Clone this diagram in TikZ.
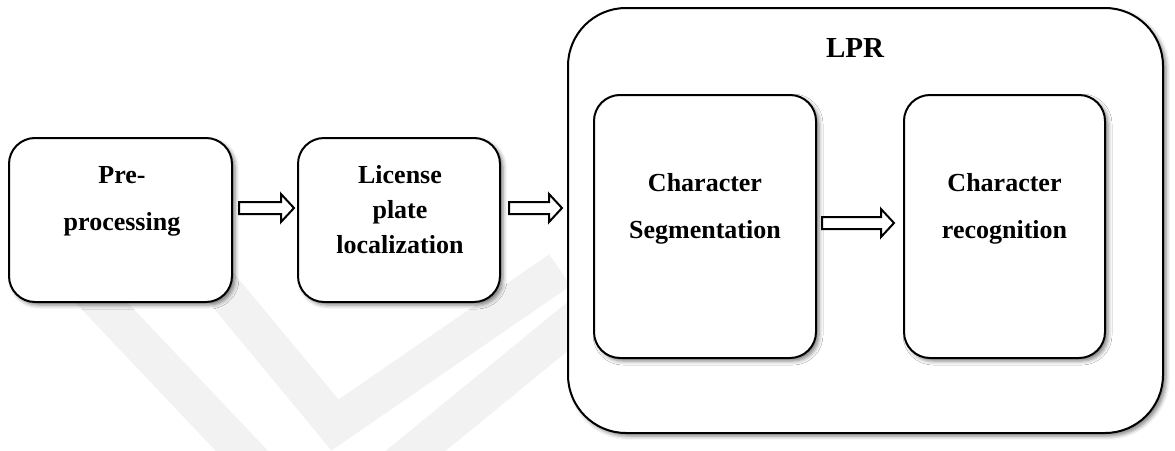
\documentclass[tikz,border=0pt]{standalone}
\usepackage{fontspec}
\setmainfont{Liberation Serif}
\usetikzlibrary{calc,shadows.blur}

\tikzset{
  stage/.style={draw, line width=2pt, fill=white, rounded corners=26pt,
    blur shadow={shadow xshift=3pt, shadow yshift=-3pt,
                 shadow blur radius=4pt, shadow opacity=50}},
  group/.style={stage, rounded corners=58pt},
  caption/.style={font=\fontsize{26}{47}\selectfont\bfseries, align=center},
  tightcaption/.style={font=\fontsize{26}{35}\selectfont\bfseries, align=center},
  hollow/.style={draw, line width=2pt, fill=white, line join=miter},
  backband/.style={draw=black!5, line width=38pt, line join=miter}
}

% hollow block arrow between two nodes: #1 source, #2 target, #3 height (px), #4/#5 gaps
\newcommand\hollowarrow[5]{%
  \draw[hollow] let \p1=(#1.east), \p2=(#2.west), \p3=(0,#3) in
    (\x1+#4pt, \y3+6pt) -- (\x2-#5pt-13pt, \y3+6pt) -- (\x2-#5pt-13pt, \y3+14pt)
    -- (\x2-#5pt, \y3) -- (\x2-#5pt-13pt, \y3-14pt) -- (\x2-#5pt-13pt, \y3-6pt)
    -- (\x1+#4pt, \y3-6pt) -- cycle;}

\begin{document}
\begin{tikzpicture}[x=1pt, y=-1pt]
  \useasboundingbox (0,0) rectangle (1175,450);

  % faint background bands
  \draw[backband] (80,280) -- (260,470);
  \draw[backband] (215,280) -- (335,425) -- (560,270);
  \draw[backband] (380,480) -- (600,300);

  % first two stages
  \node[stage, minimum width=223pt, minimum height=164pt] (pre) at (120.5,220) {};
  \node[stage, minimum width=202pt, minimum height=164pt] (loc) at (399,220) {};

  % recognition group
  \node[group, minimum width=595pt, minimum height=425pt] (lpr) at (865.5,220.5) {};
  \node[stage, minimum width=222pt, minimum height=263pt] (seg) at (705,226.5) {};
  \node[stage, minimum width=201pt, minimum height=263pt] (rec) at (1004.5,226.5) {};

  % captions
  \node[caption] (pre-t) at (122,201.5) {Pre-\\processing};
  \node[tightcaption] (loc-t) at (400,210) {License\\plate\\localization};
  \node[font=\fontsize{29}{35}\selectfont\bfseries] (lpr-t) at (855,48) {LPR};
  \node[caption] (seg-t) at (705,208.5) {Character\\Segmentation};
  \node[caption] (rec-t) at (1004.5,208.5) {Character\\recognition};

  % flow arrows
  \hollowarrow{pre}{loc}{208}{6}{3}
  \hollowarrow{loc}{lpr}{208}{8}{5}
  \hollowarrow{seg}{rec}{223}{5}{9}
\end{tikzpicture}
\end{document}
